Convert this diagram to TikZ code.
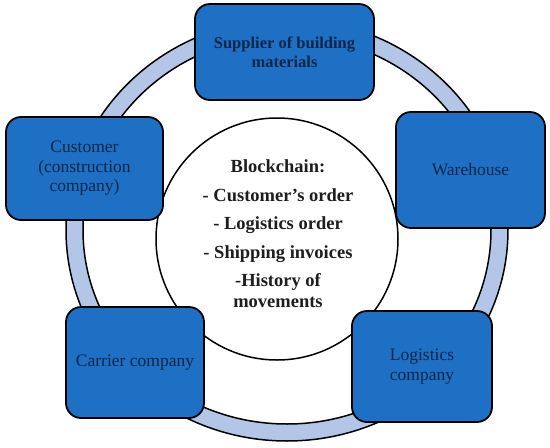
\documentclass[tikz,border=0pt]{standalone}
\usepackage{fontspec}
\setmainfont{Liberation Serif}
\definecolor{ringblue}{RGB}{180,198,231}
\definecolor{boxblue}{RGB}{30,112,196}
\definecolor{navytext}{RGB}{12,38,72}
\definecolor{darktext}{RGB}{30,30,30}
\tikzset{
  box/.style={draw=black, line width=1.8pt, fill=boxblue, rounded corners=15pt,
    text=navytext, align=center, inner sep=2pt,
    font=\fontsize{17.5}{19.5}\selectfont},
  ringline/.style={draw=black, line width=1.5pt},
}
\begin{document}
\begin{tikzpicture}[x=1pt,y=-1pt]
\useasboundingbox (0,0) rectangle (550,448);
% ring
\filldraw[ringline, fill=ringblue] (287,230) ellipse [x radius=221, y radius=211];
\filldraw[ringline, fill=white] (287,230) ellipse [x radius=204, y radius=194];
% central circle
\node[draw=black, line width=1.5pt, fill=white, circle, minimum size=242pt, inner sep=0pt] (chain) at (277,239) {};
\node[text=darktext, align=center, font=\bfseries\fontsize{18.5}{21}\selectfont] (chaintext) at (278,234)
  {Blockchain:\\[7.5pt] - Customer's order\\[7.5pt] - Logistics order\\[7.5pt] - Shipping invoices\\[7.5pt] -History of\\ movements};
% boxes
\node[box, minimum width=179pt, minimum height=96pt, font=\bfseries\fontsize{16.5}{19}\selectfont] (sup) at (284.5,52) {Supplier of building\\ materials};
\node[box, minimum width=157pt, minimum height=103pt] (cust) at (84.5,168.5) {Customer\\ (construction\\ company)};
\node[box, minimum width=149pt, minimum height=116pt] (ware) at (470.5,170) {Warehouse};
\node[box, minimum width=138pt, minimum height=111pt] (carr) at (135,362.5) {Carrier company};
\node[box, minimum width=140pt, minimum height=111pt] (logi) at (422,366.5) {Logistics\\ company};
\end{tikzpicture}
\end{document}
